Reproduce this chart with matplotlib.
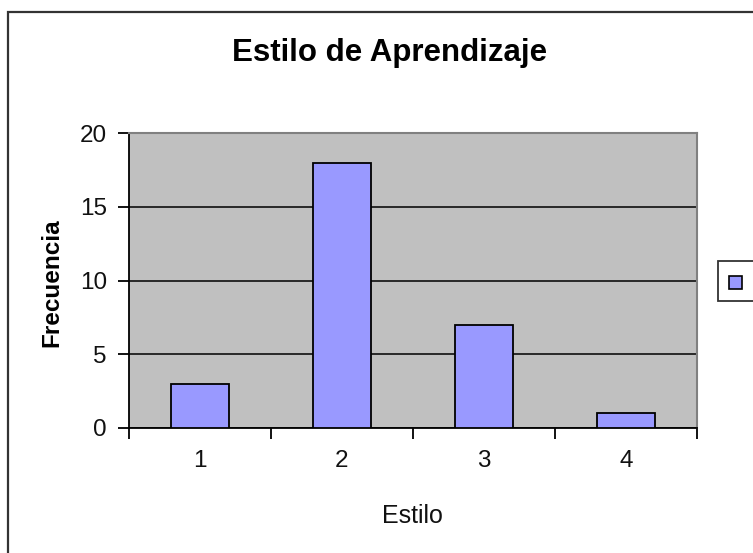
import matplotlib
matplotlib.use("Agg")
import matplotlib.pyplot as plt
from matplotlib.patches import Rectangle

plt.rcParams['font.family'] = ['Liberation Sans', 'DejaVu Sans']

categories = ["1", "2", "3", "4"]
values = [3, 18, 7, 1]
yticks = [0, 5, 10, 15, 20]
title = "Estilo de Aprendizaje"
xlabel = "Estilo"
ylabel = "Frecuencia"

W, H = 753, 553
fig = plt.figure(figsize=(W / 100, H / 100), dpi=100)

def fx(px):
    return px / W

def fy(py):
    return 1 - py / H

# outer chart frame (extends past image edge)
fig.patches.append(Rectangle((fx(8), fy(H + 10)), fx(780) - fx(8), fy(12) - fy(H + 10),
                             transform=fig.transFigure, fill=False, edgecolor='#333333',
                             linewidth=1.6, zorder=0))

left, right, top, bottom = 129, 697, 133, 428
ax = fig.add_axes([fx(left), fy(bottom), fx(right) - fx(left), fy(top) - fy(bottom)])
ax.set_facecolor('#C0C0C0')

x = list(range(len(categories)))
ax.bar(x, values, width=0.415, color='#9999FF', edgecolor='black', linewidth=1.3, zorder=3)

ax.set_xlim(-0.5, len(categories) - 0.5)
ax.set_ylim(0, 20)
ax.set_yticks(yticks)
ax.set_yticklabels([str(t) for t in yticks], fontsize=17.5, color='#111111')
ax.yaxis.grid(True, color='black', linewidth=1.1, zorder=1)
ax.set_axisbelow(True)

ax.set_xticks([i - 0.5 for i in range(len(categories) + 1)])
ax.set_xticklabels([])
ax.set_xticks(x, minor=True)
ax.set_xticklabels(categories, minor=True, fontsize=17.5, color='#111111')
ax.tick_params(axis='x', which='major', length=8, width=1.3, direction='out', color='black')
ax.tick_params(axis='x', which='minor', length=0, pad=16)
ax.tick_params(axis='y', length=8, width=1.3, direction='out', color='black', pad=8)

for s in ['top', 'right']:
    ax.spines[s].set_color('#808080')
    ax.spines[s].set_linewidth(1.5)
for s in ['left', 'bottom']:
    ax.spines[s].set_color('black')
    ax.spines[s].set_linewidth(1.3)

fig.text(fx(390), fy(61), title, ha='center', va='baseline', fontsize=22.5, fontweight='bold')
fig.text(fx(52), fy(283), ylabel, ha='center', va='center', rotation=90, fontsize=17.5, fontweight='bold')
fig.text(fx(412), fy(523), xlabel, ha='center', va='baseline', fontsize=18, color='#111111')

# legend box (extends past image edge)
fig.patches.append(Rectangle((fx(718), fy(301)), fx(790) - fx(718), fy(261) - fy(301),
                             transform=fig.transFigure, fill=True, facecolor='white',
                             edgecolor='#333333', linewidth=1.3))
fig.patches.append(Rectangle((fx(729), fy(289)), fx(742) - fx(729), fy(276) - fy(289),
                             transform=fig.transFigure, facecolor='#9999FF',
                             edgecolor='black', linewidth=1.2))

fig.savefig("out.png", dpi=100)
